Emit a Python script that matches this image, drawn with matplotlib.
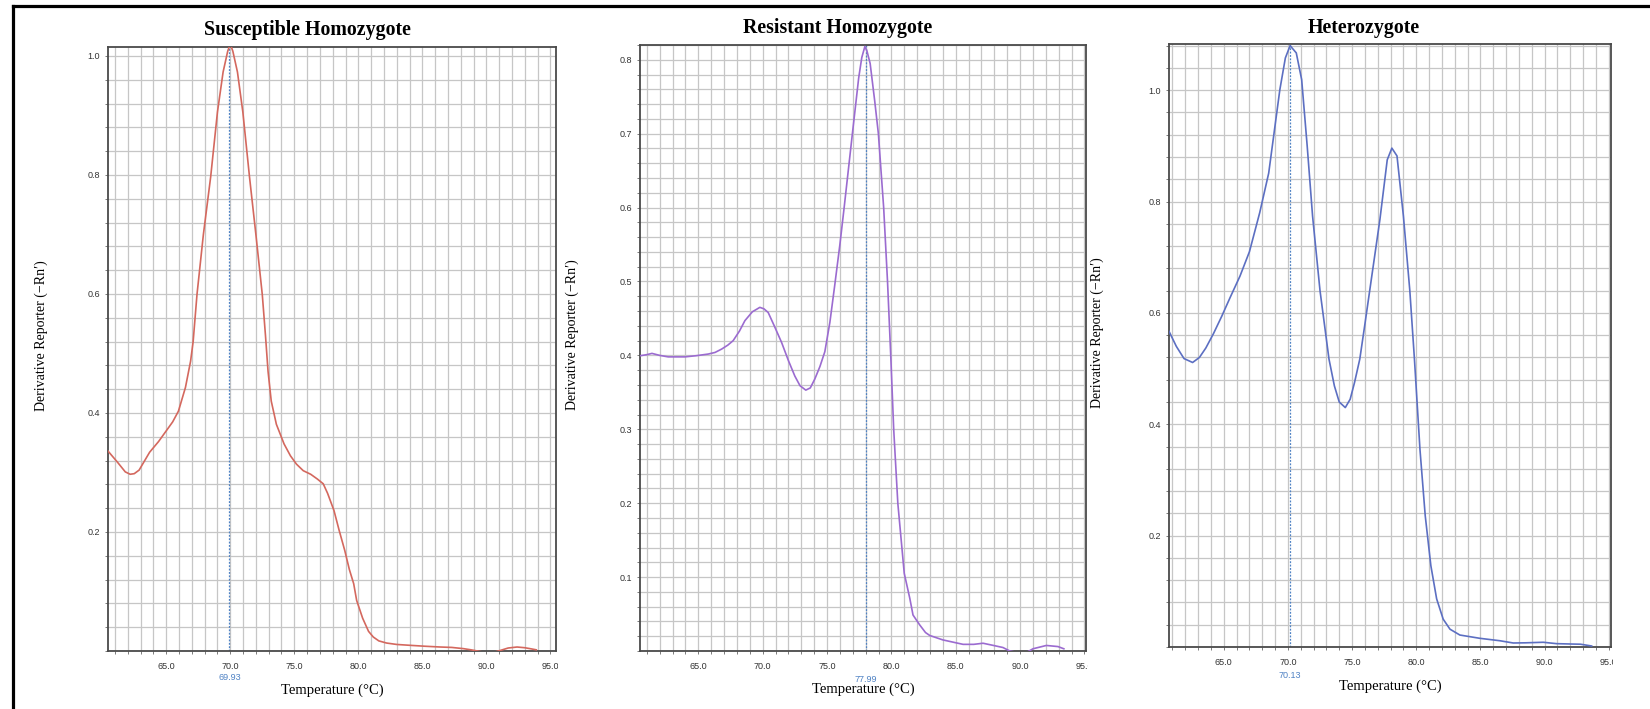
import numpy as np
import matplotlib.pyplot as plt
from matplotlib.ticker import FixedLocator, MultipleLocator
from matplotlib.transforms import Bbox, TransformedBbox, blended_transform_factory
from matplotlib.lines import Line2D

plt.rcParams['font.family'] = ['Liberation Sans', 'DejaVu Sans']

# ---- data (temperature in deg C, -dRn/dT) ----
sus_temp = [60.45, 61.2, 61.8, 62.18, 62.5, 62.88, 63.7, 64.4, 65.0, 65.5, 65.95, 66.5, 66.9,
            67.1, 67.4, 67.9, 68.47, 69.0, 69.44, 69.8, 70.0, 70.2, 70.56, 70.98, 71.5,
            72.0, 72.5, 72.75, 72.95, 73.2, 73.6, 74.2, 74.7, 75.17, 75.7, 76.28, 76.8,
            77.26, 77.6, 78.1, 78.5, 78.94, 79.3, 79.64, 79.87, 80.34, 80.8, 81.17, 81.6,
            82.2, 83.0, 84.0, 85.2, 86.4, 87.3, 88.2, 88.8, 89.3, 89.8, 90.6, 91.1, 91.7,
            92.4, 93.0, 93.4, 93.9]
sus_val = [0.336, 0.317, 0.301, 0.297, 0.298, 0.304, 0.334, 0.352, 0.370, 0.385, 0.403, 0.443,
           0.487, 0.520, 0.599, 0.700, 0.797, 0.906, 0.973, 1.008, 1.020, 1.008, 0.973, 0.906,
           0.797, 0.700, 0.599, 0.530, 0.470, 0.420, 0.381, 0.348, 0.328, 0.314, 0.303, 0.297,
           0.289, 0.281, 0.265, 0.236, 0.203, 0.169, 0.137, 0.113, 0.085, 0.055, 0.033, 0.0235,
           0.017, 0.0134, 0.011, 0.0096, 0.008, 0.0067, 0.006, 0.004, 0.002, 0.0, -0.002,
           -0.002, 0.001, 0.005, 0.0067, 0.0055, 0.004, 0.002]

res_temp = [60.47, 61.0, 61.4, 62.0, 62.66, 63.96, 64.8, 65.77, 66.3, 66.81, 67.3, 67.71,
            68.2, 68.62, 69.2, 69.78, 70.1, 70.43, 70.9, 71.47, 72.0, 72.5, 72.9, 73.35,
            73.7, 74.05, 74.45, 74.83, 75.22, 75.6, 76.0, 76.33, 76.97, 77.46, 77.7, 77.94,
            78.1, 78.35, 78.7, 78.99, 79.4, 79.7, 79.95, 80.18, 80.5, 81.0, 81.43, 81.68,
            82.2, 82.65, 82.98, 84.0, 85.57, 86.4, 87.12, 87.8, 88.67, 89.2, 89.8, 90.5,
            91.0, 92.04, 92.94, 93.4]
res_val = [0.3995, 0.401, 0.4027, 0.400, 0.398, 0.398, 0.3995, 0.4018, 0.404, 0.4085, 0.414, 0.420,
           0.433, 0.447, 0.459, 0.465, 0.463, 0.458, 0.440, 0.4175, 0.393, 0.372, 0.359, 0.353,
           0.356, 0.368, 0.385, 0.405, 0.4445, 0.495, 0.550, 0.600, 0.700, 0.7755, 0.803, 0.818,
           0.812, 0.795, 0.745, 0.700, 0.600, 0.500, 0.400, 0.300, 0.200, 0.105, 0.0713, 0.0487,
           0.0353, 0.025, 0.021, 0.015, 0.009, 0.009, 0.0105, 0.008, 0.0047, 0.0, -0.002, -0.002,
           0.003, 0.0075, 0.006, 0.003]

het_temp = [60.73, 61.3, 61.9, 62.57, 63.1, 63.6, 64.2, 64.84, 65.5, 66.26, 67.0, 67.8,
            68.5, 68.9, 69.37, 69.8, 70.17, 70.65, 71.07, 71.5, 71.92, 72.5, 73.2, 73.62,
            74.0, 74.47, 74.85, 75.19, 75.6, 76.0, 76.46, 77.17, 77.74, 78.1, 78.5, 79.0,
            79.5, 79.86, 80.29, 80.7, 81.14, 81.59, 82.1, 82.63, 83.4, 84.96, 86.5, 87.56,
            88.5, 89.9, 90.94, 91.98, 92.8, 93.67]
het_val = [0.567, 0.540, 0.518, 0.511, 0.520, 0.537, 0.563, 0.594, 0.628, 0.666, 0.710, 0.780,
           0.851, 0.920, 1.001, 1.058, 1.080, 1.067, 1.019, 0.900, 0.774, 0.640, 0.517, 0.469,
           0.440, 0.430, 0.445, 0.475, 0.517, 0.580, 0.654, 0.768, 0.875, 0.896, 0.882, 0.774,
           0.640, 0.517, 0.355, 0.236, 0.146, 0.0865, 0.050, 0.032, 0.0215, 0.0156, 0.0113, 0.0072,
           0.0075, 0.0085, 0.006, 0.0054, 0.005, 0.0018]

titles = ['Susceptible Homozygote', 'Resistant Homozygote', 'Heterozygote']
tm_values = [69.93, 77.99, 70.13]
tm_labels = ['69.93', '77.99', '70.13']
x_ticks = [65, 70, 75, 80, 85, 90, 95]
x_ticklabels = ['65.0', '70.0', '75.0', '80.0', '85.0', '90.0', '95.0']
y_ticks = [[0.2, 0.4, 0.6, 0.8, 1.0],
           [0.1, 0.2, 0.3, 0.4, 0.5, 0.6, 0.7, 0.8],
           [0.2, 0.4, 0.6, 0.8, 1.0]]
y_minor = [0.04, 0.02, 0.04]
y_lims = [(0, 1.015), (0, 0.82), (0, 1.083)]
x_lims = [(60.45, 95.44), (60.47, 95.12), (60.73, 95.18)]

temps = [sus_temp, res_temp, het_temp]
vals = [sus_val, res_val, het_val]
colors = ['#d4685e', '#9b6bd0', '#5c6fc2']

W, H = 1650, 709
# axes boxes in pixels: left, right, top, bottom
boxes = [(108, 556, 47, 651), (640, 1086, 45, 651), (1169, 1611, 44, 647)]
title_x = [307, 838, 1364]
title_y = [30, 28, 28]
ylab_x = [41, 572, 1097]
tm_y = [678, 679, 675]
xlab_y = [690, 689, 686]

fig = plt.figure(figsize=(W / 100, H / 100), dpi=100)
fig.patch.set_facecolor('white')

for i in range(3):
    l, r, t, b = boxes[i]
    ax = fig.add_axes([l / W, (H - b) / H, (r - l) / W, (b - t) / H])
    ax.plot(temps[i], vals[i], color=colors[i], lw=1.2, zorder=3)
    ax.axvline(tm_values[i], color='#4f82c4', lw=0.9, ls=(0, (1.5, 1.2)), zorder=2)

    ax.set_xlim(*x_lims[i])
    ax.set_ylim(*y_lims[i])
    ax.xaxis.set_major_locator(FixedLocator(x_ticks))
    ax.set_xticklabels(x_ticklabels)
    ax.xaxis.set_minor_locator(MultipleLocator(1))
    ax.yaxis.set_major_locator(FixedLocator(y_ticks[i]))
    ax.yaxis.set_minor_locator(MultipleLocator(y_minor[i]))
    ax.set_yticklabels(['%.1f' % v for v in y_ticks[i]])

    ax.grid(which='both', color='#c6c6c6', lw=0.9)
    ax.set_axisbelow(True)
    for s in ax.spines.values():
        s.set_color('#4a4a4a')
        s.set_linewidth(1.3)
    ax.tick_params(which='both', direction='out', length=2.4, width=0.6, color='#666666')
    ax.tick_params(axis='x', labelsize=6.5, labelcolor='#333333', pad=5.5)
    ax.tick_params(axis='y', labelsize=6.5, labelcolor='#333333', pad=3.2)

    # last tick label is cut at the right border like in the original
    last = ax.get_xticklabels()[-1]
    last.set_clip_on(True)
    last.set_clip_box(TransformedBbox(Bbox([[0, -0.2], [1.004, 0]]), ax.transAxes))

    trans = blended_transform_factory(ax.transData, ax.transAxes)
    ax.text(tm_values[i], (b - tm_y[i]) / (b - t), tm_labels[i], transform=trans,
            ha='center', va='center', fontsize=6.5, color='#4f82c4')

    ax.set_xlabel('Temperature (°C)', family='Liberation Serif', fontsize=10.5)
    ax.xaxis.set_label_coords(0.5, (b - xlab_y[i]) / (b - t))
    ax.xaxis.label.set_va('center')
    ax.set_ylabel('Derivative Reporter (\u2212Rn\u2032)', family='Liberation Serif', fontsize=10)
    ax.yaxis.set_label_coords((ylab_x[i] - l) / (r - l), 0.5 + 13 / (b - t))
    ax.yaxis.label.set_va('center')

    fig.text(title_x[i] / W, 1 - title_y[i] / H, titles[i], ha='center', va='center',
             family='Liberation Serif', fontweight='bold', fontsize=14.3)

# black frame on the left and top edges of the screenshot
fig.add_artist(Line2D([12.5 / W, 12.5 / W], [0, 1 - 5.5 / H], transform=fig.transFigure,
                      color='black', lw=2.3))
fig.add_artist(Line2D([12.5 / W, 1], [1 - 5.5 / H, 1 - 5.5 / H], transform=fig.transFigure,
                      color='black', lw=2.3))

fig.savefig('out.png', dpi=100, facecolor='white')
